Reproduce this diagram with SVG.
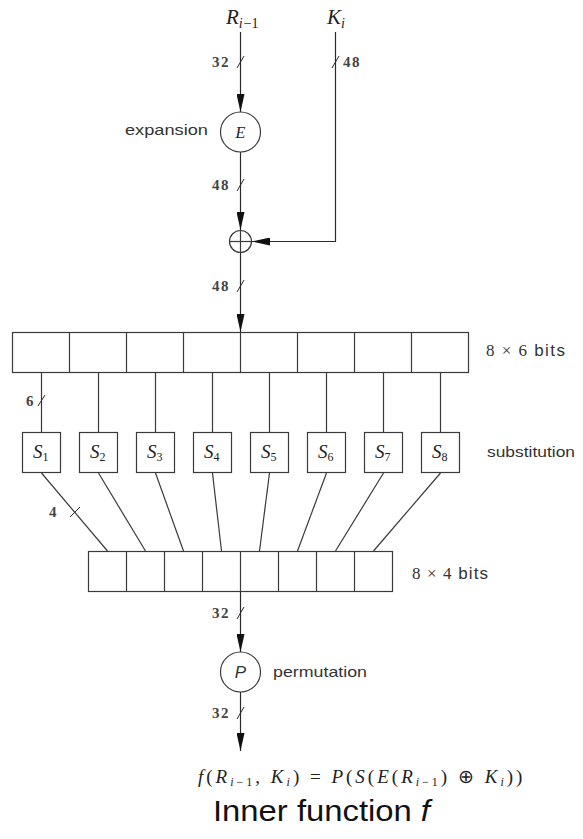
<svg xmlns="http://www.w3.org/2000/svg" width="583" height="839" viewBox="0 0 583 839">
<style>
.ln{stroke:#3a3a3a;stroke-width:1.2;fill:none}
.box{stroke:#3a3a3a;stroke-width:1.2;fill:#fff}
.arr{stroke:#2a2a2a;stroke-width:1.2;fill:none;marker-end:url(#ah)}
.tk{stroke:#2a2a2a;stroke-width:1}
.num{font-family:"Liberation Serif",serif;font-size:15px;font-weight:bold;fill:#444;letter-spacing:1.5px}
.it{font-family:"Liberation Serif",serif;font-style:italic;fill:#222}
.sans{font-family:"Liberation Sans",Arial,sans-serif;font-size:15px;fill:#333}
</style>
<defs>
<marker id="ah" markerUnits="userSpaceOnUse" markerWidth="18" markerHeight="8" refX="18" refY="4" orient="auto">
<path d="M0,0 L18,4 L0,8 z" fill="#111"/>
</marker>
</defs>
<rect width="583" height="839" fill="#fff"/>

<g id="connectors">
<line class="arr" x1="240.5" y1="32" x2="240.5" y2="112"/>
<line class="arr" x1="240.5" y1="152" x2="240.5" y2="230"/>
<polyline class="arr" points="335.5,32 335.5,241.5 252,241.5"/>
<line class="arr" x1="240.5" y1="253" x2="240.5" y2="332"/>
<line class="ln" x1="41.5" y1="373" x2="41.5" y2="432"/>
<line class="ln" x1="98.5" y1="373" x2="98.5" y2="432"/>
<line class="ln" x1="155.5" y1="373" x2="155.5" y2="432"/>
<line class="ln" x1="212.5" y1="373" x2="212.5" y2="432"/>
<line class="ln" x1="269.5" y1="373" x2="269.5" y2="432"/>
<line class="ln" x1="326.5" y1="373" x2="326.5" y2="432"/>
<line class="ln" x1="383.5" y1="373" x2="383.5" y2="432"/>
<line class="ln" x1="440.5" y1="373" x2="440.5" y2="432"/>
<line class="ln" x1="41.5" y1="473" x2="107.5" y2="551"/>
<line class="ln" x1="98.5" y1="473" x2="145.5" y2="551"/>
<line class="ln" x1="155.5" y1="473" x2="183.5" y2="551"/>
<line class="ln" x1="212.5" y1="473" x2="221.5" y2="551"/>
<line class="ln" x1="269.5" y1="473" x2="259.5" y2="551"/>
<line class="ln" x1="326.5" y1="473" x2="297.5" y2="551"/>
<line class="ln" x1="383.5" y1="473" x2="335.5" y2="551"/>
<line class="ln" x1="440.5" y1="473" x2="373.5" y2="551"/>
<line class="arr" x1="240.5" y1="592" x2="240.5" y2="652"/>
<line class="arr" x1="240.5" y1="692" x2="240.5" y2="751"/>
<line class="tk" x1="237" y1="68" x2="244" y2="56"/>
<line class="tk" x1="332" y1="68" x2="339" y2="56"/>
<line class="tk" x1="237" y1="191" x2="244" y2="179"/>
<line class="tk" x1="237" y1="292" x2="244" y2="280"/>
<line class="tk" x1="38" y1="406" x2="45" y2="395"/>
<line class="tk" x1="70" y1="517" x2="80" y2="507"/>
<line class="tk" x1="237" y1="619" x2="244" y2="607"/>
<line class="tk" x1="237" y1="719" x2="244" y2="707"/>
</g>
<g id="labels">
<text class="num" x="212" y="67">32</text>
<text class="num" x="343" y="67">48</text>
<text class="num" x="212" y="190">48</text>
<text class="num" x="212" y="291">48</text>
<text class="num" x="26" y="406">6</text>
<text class="num" x="49" y="517">4</text>
<text class="num" x="212" y="618">32</text>
<text class="num" x="212" y="718">32</text>
</g>

<g id="R">
<text class="it" x="226" y="24" font-size="21">R<tspan font-size="14" dy="4" letter-spacing="1">i</tspan><tspan font-size="14" font-style="normal">−1</tspan></text>
</g>
<g id="K">
<text class="it" x="327" y="24" font-size="21">K<tspan font-size="14" dy="4">i</tspan></text>
</g>

<g id="E">
<circle class="box" cx="240.5" cy="132" r="20"/>
<text class="it" x="240.5" y="138" font-size="16" text-anchor="middle">E</text>
<text class="sans" x="125" y="135" textLength="83" lengthAdjust="spacingAndGlyphs">expansion</text>
</g>

<g id="xor">
<circle class="box" cx="240.5" cy="241.5" r="11"/>
<line class="ln" x1="229.5" y1="241.5" x2="251.5" y2="241.5"/>
<line class="ln" x1="240.5" y1="230.5" x2="240.5" y2="252.5"/>
</g>

<g id="topbox">
<rect class="box" x="12.5" y="332.5" width="456" height="40"/>
<path class="ln" d="M69.5,332.5V372.5M126.5,332.5V372.5M183.5,332.5V372.5M240.5,332.5V372.5M297.5,332.5V372.5M354.5,332.5V372.5M411.5,332.5V372.5"/>
<text x="486" y="356" font-size="17" fill="#333" textLength="79" lengthAdjust="spacing"><tspan font-family="Liberation Serif, serif">8 × 6 </tspan><tspan font-family="Liberation Sans, sans-serif">bits</tspan></text>
</g>

<g id="sboxes">
<g id="S1"><rect class="box" x="22.5" y="432.5" width="38" height="40"/><text class="it" x="33" y="458" font-size="19">S<tspan font-size="12" font-style="normal" dy="3">1</tspan></text></g>
<g id="S2"><rect class="box" x="79.5" y="432.5" width="38" height="40"/><text class="it" x="90" y="458" font-size="19">S<tspan font-size="12" font-style="normal" dy="3">2</tspan></text></g>
<g id="S3"><rect class="box" x="136.5" y="432.5" width="38" height="40"/><text class="it" x="147" y="458" font-size="19">S<tspan font-size="12" font-style="normal" dy="3">3</tspan></text></g>
<g id="S4"><rect class="box" x="193.5" y="432.5" width="38" height="40"/><text class="it" x="204" y="458" font-size="19">S<tspan font-size="12" font-style="normal" dy="3">4</tspan></text></g>
<g id="S5"><rect class="box" x="250.5" y="432.5" width="38" height="40"/><text class="it" x="261" y="458" font-size="19">S<tspan font-size="12" font-style="normal" dy="3">5</tspan></text></g>
<g id="S6"><rect class="box" x="307.5" y="432.5" width="38" height="40"/><text class="it" x="318" y="458" font-size="19">S<tspan font-size="12" font-style="normal" dy="3">6</tspan></text></g>
<g id="S7"><rect class="box" x="364.5" y="432.5" width="38" height="40"/><text class="it" x="375" y="458" font-size="19">S<tspan font-size="12" font-style="normal" dy="3">7</tspan></text></g>
<g id="S8"><rect class="box" x="421.5" y="432.5" width="38" height="40"/><text class="it" x="432" y="458" font-size="19">S<tspan font-size="12" font-style="normal" dy="3">8</tspan></text></g>
<text class="sans" x="487" y="457" textLength="88" lengthAdjust="spacingAndGlyphs">substitution</text>
</g>

<g id="bottombox">
<rect class="box" x="88.5" y="551.5" width="304" height="40"/>
<path class="ln" d="M126.5,551.5V591.5M164.5,551.5V591.5M202.5,551.5V591.5M240.5,551.5V591.5M278.5,551.5V591.5M316.5,551.5V591.5M354.5,551.5V591.5"/>
<text x="412" y="579" font-size="17" fill="#333" textLength="76" lengthAdjust="spacing"><tspan font-family="Liberation Serif, serif">8 × 4 </tspan><tspan font-family="Liberation Sans, sans-serif">bits</tspan></text>
</g>

<g id="P">
<circle class="box" cx="240.5" cy="672" r="20"/>
<text x="240.5" y="678" font-family="Liberation Sans, sans-serif" font-style="italic" font-size="17" fill="#333" text-anchor="middle">P</text>
<text class="sans" x="273" y="677" textLength="94" lengthAdjust="spacingAndGlyphs">permutation</text>
</g>

<g id="formula">
<text x="198" y="783" font-family="Liberation Serif, serif" font-size="19" fill="#222" letter-spacing="3"><tspan font-style="italic">f</tspan>(<tspan font-style="italic">R</tspan><tspan font-size="12" font-style="italic" dy="3">i</tspan><tspan font-size="12">−1</tspan><tspan dy="-3">, </tspan><tspan font-style="italic">K</tspan><tspan font-size="12" font-style="italic" dy="3">i</tspan><tspan dy="-3">) = </tspan><tspan font-style="italic">P</tspan>(<tspan font-style="italic">S</tspan>(<tspan font-style="italic">E</tspan>(<tspan font-style="italic">R</tspan><tspan font-size="12" font-style="italic" dy="3">i</tspan><tspan font-size="12">−1</tspan><tspan dy="-3">) ⊕ </tspan><tspan font-style="italic">K</tspan><tspan font-size="12" font-style="italic" dy="3">i</tspan><tspan dy="-3">))</tspan></text>
</g>

<g id="title">
<text x="213" y="821" font-family="Liberation Sans, Arial, sans-serif" font-size="30" fill="#111" textLength="217" lengthAdjust="spacingAndGlyphs">Inner function <tspan font-style="italic">f</tspan></text>
</g>
</svg>
